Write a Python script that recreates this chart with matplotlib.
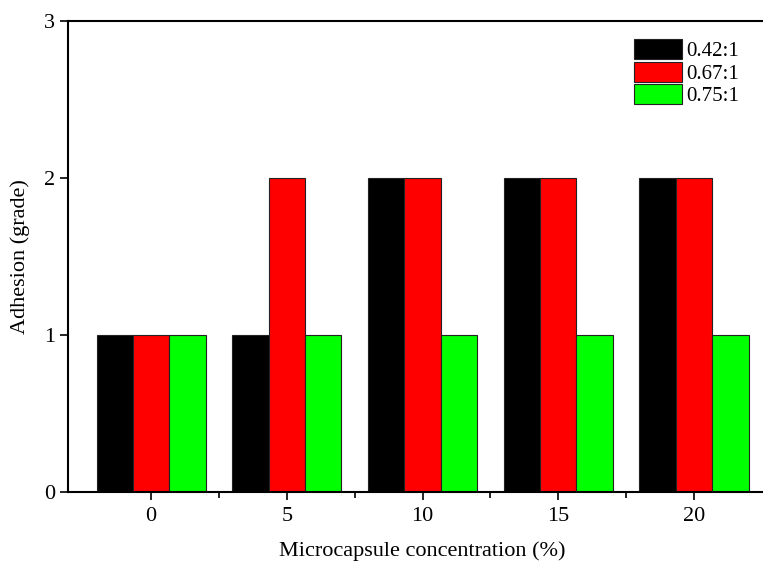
import matplotlib
matplotlib.use("Agg")
import matplotlib.pyplot as plt
import numpy as np

plt.rcParams['font.family'] = ['Liberation Serif', 'DejaVu Serif']

# data
concentration = [0, 5, 10, 15, 20]
ratios = ['0.42:1', '0.67:1', '0.75:1']
adhesion_042 = [1, 1, 2, 2, 2]
adhesion_067 = [1, 2, 2, 2, 2]
adhesion_075 = [1, 1, 1, 1, 1]
colors = ['#000000', '#FF0000', '#00FF00']

fig = plt.figure(figsize=(7.63, 5.63), dpi=100)
ax = fig.add_axes([68 / 763, 71 / 563, 708 / 763, 471 / 563])

x = np.array(concentration, dtype=float)
w = 1.34
series = [adhesion_042, adhesion_067, adhesion_075]
for i, (vals, c, lab) in enumerate(zip(series, colors, ratios)):
    ax.bar(x + (i - 1) * w, vals, width=w, color=c, edgecolor='#222222',
           linewidth=0.8, label=lab)

ax.set_xlim(-3.06, 23.02)
ax.set_ylim(0, 3)
ax.set_xticks(concentration)
ax.set_xticks([2.5, 7.5, 12.5, 17.5], minor=True)
ax.set_yticks([0, 1, 2, 3])
ax.tick_params(axis='both', direction='out', labelsize=16, length=6, width=1.2)
ax.tick_params(axis='x', which='minor', direction='out', length=4, width=1.2)
ax.tick_params(axis='x', pad=5)
ax.spines['right'].set_visible(False)
for s in ['left', 'bottom', 'top']:
    ax.spines[s].set_linewidth(1.5)

ax.set_xlabel('Microcapsule concentration (%)', fontsize=16, labelpad=11)
ax.set_ylabel('Adhesion (grade)', fontsize=16, labelpad=10)

ax.legend(loc='upper left', bbox_to_anchor=(634 / 763, 1 - 39 / 563),
          bbox_transform=fig.transFigure, frameon=False, fontsize=15,
          handlelength=2.3, handleheight=1.1, labelspacing=0.02,
          handletextpad=0.2, borderaxespad=0, borderpad=0)

fig.savefig('out.png', dpi=100)
